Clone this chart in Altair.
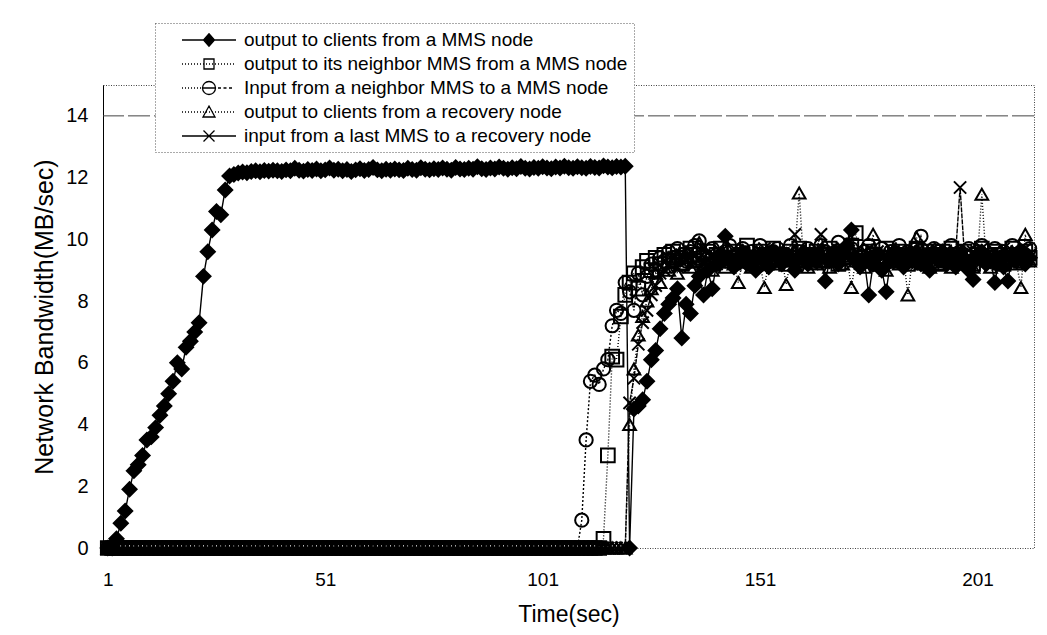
import altair as alt
import pandas as pd

NAMES = [
    "output to clients from a MMS node",
    "output to its neighbor MMS from a MMS node",
    "Input from a neighbor MMS to a MMS node",
    "output to clients from a recovery node",
    "input from a last MMS to a recovery node",
]

X_TICKS = [1, 51, 101, 151, 201]
Y_TICKS = [0, 2, 4, 6, 8, 10, 12, 14]

# series 1: output to clients from a MMS node (t = 1 .. 213)
S1_RAMP = [0.0, 0.0, 0.3, 0.8, 1.2, 1.9, 2.5, 2.7, 3.0, 3.5, 3.6, 3.9, 4.3, 4.6, 5.0,
           5.4, 6.0, 5.8, 6.5, 6.7, 7.0, 7.3, 8.8, 9.6, 10.3, 10.9, 10.8, 11.6, 12.05]
S1_FLAT = [12.10, 12.15, 12.18, 12.16, 12.20, 12.22, 12.19, 12.23, 12.21, 12.24,
           12.22, 12.20, 12.25, 12.22, 12.30, 12.24, 12.21, 12.26, 12.23, 12.28,
           12.22, 12.25, 12.31, 12.24, 12.27, 12.22, 12.26, 12.20, 12.25, 12.29,
           12.23, 12.26, 12.33, 12.25, 12.22, 12.27, 12.24, 12.28, 12.25, 12.23,
           12.30, 12.26, 12.24, 12.32, 12.27, 12.25, 12.29, 12.26, 12.31, 12.27,
           12.24, 12.33, 12.28, 12.26, 12.30, 12.27, 12.35, 12.29, 12.26, 12.31,
           12.28, 12.34, 12.30, 12.27, 12.32, 12.29, 12.36, 12.30, 12.28, 12.33,
           12.30, 12.35, 12.31, 12.29, 12.34, 12.31, 12.37, 12.32, 12.30, 12.35,
           12.32, 12.30, 12.36, 12.33, 12.31, 12.38, 12.34, 12.32, 12.36, 12.34,
           12.37]
S1_AFTER = [0.0, 4.5, 4.6, 4.8, 5.4, 6.1, 6.4, 7.1, 7.6, 7.9, 8.1, 8.4, 6.8, 7.9, 7.6,
            8.5, 8.8, 8.2, 9.0, 8.4, 9.2, 9.5, 10.1, 9.4, 9.1,
            9.3, 9.6, 9.2, 9.4, 9.0, 9.5, 9.3, 9.1, 9.6, 9.4,
            9.2, 9.5, 9.3, 9.0, 9.4, 9.6, 9.2, 9.5, 9.3, 9.4,
            8.65, 9.3, 9.6, 9.2, 9.5, 9.8, 10.3, 9.4, 9.1, 9.3,
            8.2, 9.2, 9.5, 9.0, 8.3, 9.3, 9.6, 9.4, 9.1, 9.5,
            9.3, 9.6, 9.2, 9.4, 9.0, 9.5, 9.3, 9.6, 9.2, 9.4,
            9.1, 9.5, 9.3, 9.0, 8.7, 9.4, 9.6, 9.2, 9.3, 8.6,
            9.4, 9.1, 8.65, 9.5, 9.3, 9.6, 9.2, 9.4]
S1 = S1_RAMP + S1_FLAT + S1_AFTER

# series 2: output to its neighbor MMS from a MMS node (zero until t = 114)
S2_AFTER = [0.3, 3.0, 6.2, 6.1, 7.5, 8.2, 8.6, 8.9, 8.4, 9.1,
            9.3, 9.0, 9.4, 9.2, 9.5, 9.3, 9.6, 9.4, 9.2, 9.5,
            9.7, 9.3, 9.5, 9.4, 9.6, 9.2, 9.5, 9.7, 9.3, 9.4,
            9.6, 9.3, 9.5, 9.8, 9.4, 9.2, 9.6, 9.5, 9.3, 9.7,
            9.4, 9.5, 9.2, 9.6, 9.4, 9.7, 9.3, 9.5, 9.4, 9.6,
            9.3, 9.5, 9.7, 9.4, 9.2, 9.6, 9.5, 9.8, 10.2, 9.4,
            9.3, 9.6, 9.5, 9.2, 9.4, 9.7, 9.3, 9.5, 9.6, 9.4,
            9.2, 9.5, 9.7, 9.4, 9.6, 9.3, 9.5, 9.2, 9.6, 9.4,
            9.7, 9.5, 9.3, 9.6, 9.4, 9.2, 9.5, 9.7, 9.4, 9.3,
            9.6, 9.5, 9.2, 9.4, 9.7, 9.5, 9.3, 9.6, 9.4]
S2 = [0.0] * 114 + S2_AFTER

# series 3: input from a neighbor MMS to a MMS node (zero until t = 109)
S3_AFTER = [0.9, 3.5, 5.4, 5.6, 5.3, 5.8, 6.1, 7.2, 7.7, 7.6,
            8.6, 8.3, 7.7, 8.9, 8.2, 8.8, 9.2, 9.0, 9.4, 9.3,
            9.6, 9.4, 9.7, 9.5, 9.3, 9.6, 9.8, 9.95, 9.5, 9.4,
            9.7, 9.5, 9.3, 9.6, 9.8, 9.4, 9.5, 9.7, 9.3, 9.6,
            9.4, 9.8, 9.5, 9.3, 9.6, 9.7, 9.4, 9.5, 9.8, 9.4,
            9.6, 9.3, 9.7, 9.5, 9.4, 9.8, 9.6, 9.3, 9.5, 9.9,
            9.6, 9.4, 9.7, 9.5, 9.3, 9.6, 9.8, 9.4, 9.5, 9.7,
            9.3, 9.6, 9.4, 9.8, 9.5, 9.6, 9.3, 9.7, 10.1, 9.5,
            9.4, 9.7, 9.6, 9.3, 9.5, 9.8, 9.4, 9.6, 9.5, 9.7,
            9.3, 9.6, 9.8, 9.4, 9.5, 9.7, 9.3, 9.6, 9.5, 9.8,
            9.4, 9.6, 9.5, 9.7]
S3 = [0.0] * 109 + S3_AFTER

# series 4: output to clients from a recovery node (zero until t = 120)
S4_AFTER = [4.0, 5.8, 6.9, 7.5, 8.0, 8.4, 8.9, 8.6, 9.1, 9.0,
            9.3, 8.9, 9.2, 9.4, 9.1, 9.3, 9.9, 9.2, 9.4, 9.0,
            9.3, 9.5, 9.1, 9.4, 9.2, 8.6, 9.3, 9.5, 9.1, 9.4,
            9.2, 8.44, 9.3, 9.5, 9.2, 9.4, 8.54, 9.3, 9.6, 11.5,
            9.3, 9.1, 9.4, 9.2, 9.5, 9.3, 9.1, 9.4, 9.6, 9.2,
            9.4, 8.44, 9.3, 9.5, 9.1, 9.3, 10.16, 9.2, 9.4, 9.0,
            9.3, 9.5, 9.2, 9.4, 8.2, 9.3, 10.06, 9.2, 9.5, 9.1,
            9.4, 9.2, 9.5, 9.3, 9.1, 9.4, 9.2, 9.5, 9.3, 9.1,
            9.4, 11.46, 9.3, 9.1, 9.5, 9.2, 9.4, 9.3, 9.6, 9.2,
            8.44, 10.16, 9.3]
S4 = [0.0] * 120 + S4_AFTER

# series 5: input from a last MMS to a recovery node (zero until t = 120)
S5_AFTER = [4.7, 5.5, 6.6, 7.3, 7.7, 8.2, 8.5, 8.9, 9.0, 9.2,
            9.4, 9.1, 9.5, 9.3, 9.6, 9.2, 9.4, 9.7, 9.3, 9.5,
            9.2, 9.6, 9.4, 9.3, 9.7, 9.5, 9.2, 9.4, 9.6, 9.3,
            9.5, 9.7, 9.2, 9.4, 9.6, 9.3, 9.5, 9.4, 10.16, 9.6,
            9.3, 9.5, 9.2, 9.7, 10.16, 9.4, 9.6, 9.3, 9.5, 9.7,
            9.4, 9.2, 9.6, 9.5, 9.3, 9.7, 9.4, 9.6, 9.2, 9.5,
            9.7, 9.3, 9.5, 9.6, 9.4, 9.2, 9.6, 9.5, 9.3, 9.7,
            9.4, 9.6, 9.5, 9.3, 9.4, 9.6, 11.68, 9.5, 9.3, 9.6,
            9.4, 9.7, 9.5, 9.2, 9.6, 9.4, 9.7, 9.3, 9.5, 9.6,
            9.4, 9.7, 9.5]
S5 = [0.0] * 120 + S5_AFTER

SERIES = [S1, S2, S3, S4, S5]

# ---------------- table ----------------
rows = []
for k in [4, 3, 2, 1, 0]:  # draw series 1 last (on top)
    for i, v in enumerate(SERIES[k]):
        rows.append({"t": i + 1, "v": v, "series": NAMES[k]})
df = pd.DataFrame(rows)

# ---------------- styles ----------------
X_PATH = "M-1,-1L1,1M-1,1L1,-1"
MARK_SHAPES = ["diamond", "square", "circle", "triangle-up", X_PATH]
MARK_FILLS = ["black", "transparent", "transparent", "transparent", "transparent"]
MARK_SIZES = [200, 150, 240, 190, 140]
LINE_DASH = [[1, 0], [1, 2], [2, 2], [1, 2], [5, 1]]


def dots(x0, x1, period=0.3, dash=0.1):
    out = []
    x = x0
    while x + dash <= x1 + 1e-9:
        out.append(f"M{x:.2f},0L{x + dash:.2f},0")
        x += period
    return "".join(out)


CIRCLE = "M0.65,0A0.65,0.65,0,1,1,-0.65,0A0.65,0.65,0,1,1,0.65,0"
LEG_PATHS = [
    "M-2.7,0L2.7,0M0,-0.62L0.55,0L0,0.62L-0.55,0Z",
    dots(-2.7, 2.7) + "M-0.5,-0.5L0.5,-0.5L0.5,0.5L-0.5,0.5Z",
    dots(-2.7, -0.65) + CIRCLE + "M-0.65,0L0.65,0" + dots(0.9, 2.7, 0.55, 0.3),
    dots(-2.7, 2.7) + "M0,-0.6L0.6,0.5L-0.6,0.5Z",
    "M-2.7,0L2.7,0M-0.55,-0.55L0.55,0.55M-0.55,0.55L0.55,-0.55",
]
LEG_FILLS = ["black", "transparent", "transparent", "transparent", "transparent"]
LEG_STROKES = ["black", "black", "black", "black", "black"]

FONT = "Liberation Sans"

x_enc = alt.X(
    "t:Q",
    scale=alt.Scale(domain=[-0.1, 214], nice=False, zero=False),
    axis=alt.Axis(values=X_TICKS, title="Time(sec)", grid=False, domain=False, ticks=False,
                  labelFontSize=19, titleFontSize=23, labelPadding=22, titlePadding=14,
                  labelFont=FONT, titleFont=FONT, labelColor="black", titleColor="black",
                  titleFontWeight="normal", labelFlush=False),
)
y_enc = alt.Y(
    "v:Q",
    scale=alt.Scale(domain=[0, 15], nice=False),
    axis=alt.Axis(values=Y_TICKS, title="Network Bandwidth(MB/sec)", grid=False,
                  domain=True, domainColor="black", domainWidth=1, ticks=False,
                  labelFontSize=20, titleFontSize=25, labelPadding=15, titlePadding=8,
                  labelFont=FONT, titleFont=FONT, labelColor="black", titleColor="black",
                  titleFontWeight="normal"),
)

base = alt.Chart(df)

rule14 = alt.Chart(df).transform_filter("datum.t == 1 && datum.series == '%s'" % NAMES[0]).mark_rule(
    strokeDash=[22, 4], color="#444", strokeWidth=1
).encode(y=alt.datum(14))

lines = base.mark_line(strokeWidth=1.4, color="black", clip=False).encode(
    x=x_enc, y=y_enc,
    detail="series:N",
    order=alt.Order("t:Q"),
    strokeDash=alt.StrokeDash("series:N", scale=alt.Scale(domain=NAMES, range=LINE_DASH), legend=None),
)

points = base.mark_point(stroke="black", strokeWidth=2, opacity=1, clip=False).encode(
    x=x_enc, y=y_enc,
    shape=alt.Shape("series:N", scale=alt.Scale(domain=NAMES, range=MARK_SHAPES), legend=None),
    fill=alt.Fill("series:N", scale=alt.Scale(domain=NAMES, range=MARK_FILLS), legend=None),
    size=alt.Size("series:N", scale=alt.Scale(domain=NAMES, range=MARK_SIZES), legend=None),
)

leg = alt.Legend(
    title=None, orient="none", legendX=52, legendY=-62,
    symbolSize=400, symbolStrokeWidth=1.3, symbolStrokeColor="black",
    symbolOffset=37, labelOffset=24, labelFontSize=19, labelFont=FONT,
    labelColor="black", labelLimit=600, padding=6, rowPadding=3,
    fillColor="white", strokeColor="#555", symbolOpacity=1,
)

legend_layer = base.transform_filter("false").mark_point(strokeWidth=1.3, opacity=1).encode(
    x=x_enc, y=y_enc,
    shape=alt.Shape("series:N", scale=alt.Scale(domain=NAMES, range=LEG_PATHS), legend=leg),
    fill=alt.Fill("series:N", scale=alt.Scale(domain=NAMES, range=LEG_FILLS), legend=leg),
    stroke=alt.Stroke("series:N", scale=alt.Scale(domain=NAMES, range=LEG_STROKES), legend=leg),
)

chart = (
    alt.layer(rule14, lines, points, legend_layer)
    .resolve_scale(shape="independent", fill="independent", stroke="independent")
    .properties(
        width=931, height=463,
        padding={"left": 95, "top": 77, "right": 5, "bottom": 80},
        autosize=alt.AutoSizeParams(type="none"),
        background="white",
    )
    .configure_view(stroke="#444", strokeWidth=1, strokeDash=[1, 1.5])
    .configure_legend(strokeDash=[1, 2])
)

chart.save("out.html", embed_options={"renderer": "svg", "actions": False})
